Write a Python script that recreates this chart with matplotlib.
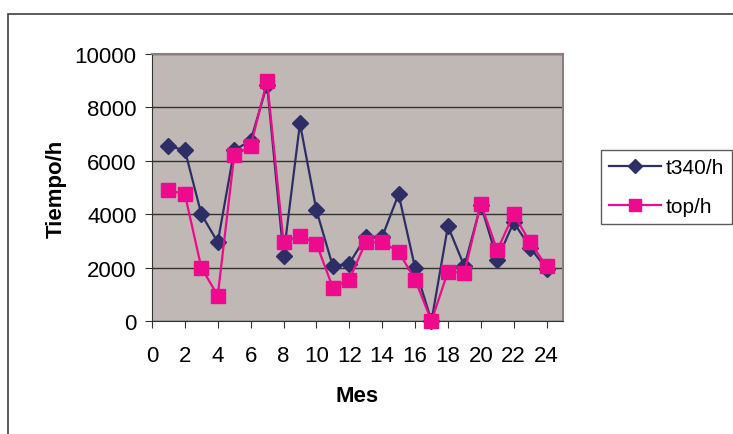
import matplotlib
matplotlib.use("Agg")
import matplotlib.pyplot as plt
from matplotlib.patches import Rectangle

plt.rcParams['font.family'] = ['Liberation Sans', 'DejaVu Sans']

mes = list(range(1, 25))
t340 = [6550, 6400, 4000, 2950, 6400, 6750, 8850, 2450, 7400, 4150, 2050, 2150,
        3150, 3150, 4750, 2000, 0, 3550, 2050, 4350, 2300, 3700, 2750, 1950]
top = [4900, 4750, 2000, 950, 6200, 6550, 9000, 2950, 3200, 2900, 1250, 1550,
       2950, 2950, 2600, 1550, 0, 1850, 1800, 4400, 2650, 4000, 2950, 2050]

fig = plt.figure(figsize=(7.33, 4.35), dpi=100)

# outer chart frame (cut off at right and bottom)
fig.patches.append(Rectangle((8 / 733, -0.05), 1.0, 1 - 15 / 435 + 0.05,
                             transform=fig.transFigure, fill=False,
                             edgecolor='#404040', linewidth=1.2, zorder=0))

ax = fig.add_axes([152 / 733, 1 - 322 / 435, (563 - 152) / 733, (322 - 55) / 435])
ax.set_facecolor('#C0B8B4')

ax.plot(mes, t340, color='#2E2E66', marker='D', markersize=8, linewidth=1.6,
        label='t340/h', zorder=3, clip_on=False)
ax.plot(mes, top, color='#EE0A8C', marker='s', markersize=10, linewidth=1.6,
        label='top/h', zorder=4, clip_on=False)

ax.set_xlim(0, 25)
ax.set_ylim(0, 10000)
ax.set_xticks(range(0, 25, 2))
ax.set_yticks(range(0, 10001, 2000))
ax.yaxis.grid(True, color='#333333', linewidth=1)
ax.set_axisbelow(True)
ax.tick_params(labelsize=16, length=5, direction='out', color='#333333')
ax.tick_params(axis='x', pad=12)
ax.tick_params(axis='y', pad=6)

for side in ['top', 'right']:
    ax.spines[side].set_color('#888080')
    ax.spines[side].set_linewidth(1.5)
for side in ['left', 'bottom']:
    ax.spines[side].set_color('#333333')

ax.set_xlabel('Mes', fontsize=16, fontweight='bold', labelpad=14)
ax.set_ylabel('Tiempo/h', fontsize=16, fontweight='bold', labelpad=6)

leg = fig.legend(loc='upper left', bbox_to_anchor=(601 / 733, 1 - 151 / 435),
                 borderaxespad=0, fontsize=15, frameon=True, fancybox=False,
                 edgecolor='#333333', borderpad=0.4, handlelength=2.5,
                 handletextpad=0.2, labelspacing=0.95, markerscale=0.9)
leg.get_frame().set_linewidth(1)

fig.savefig('out.png', dpi=100)
